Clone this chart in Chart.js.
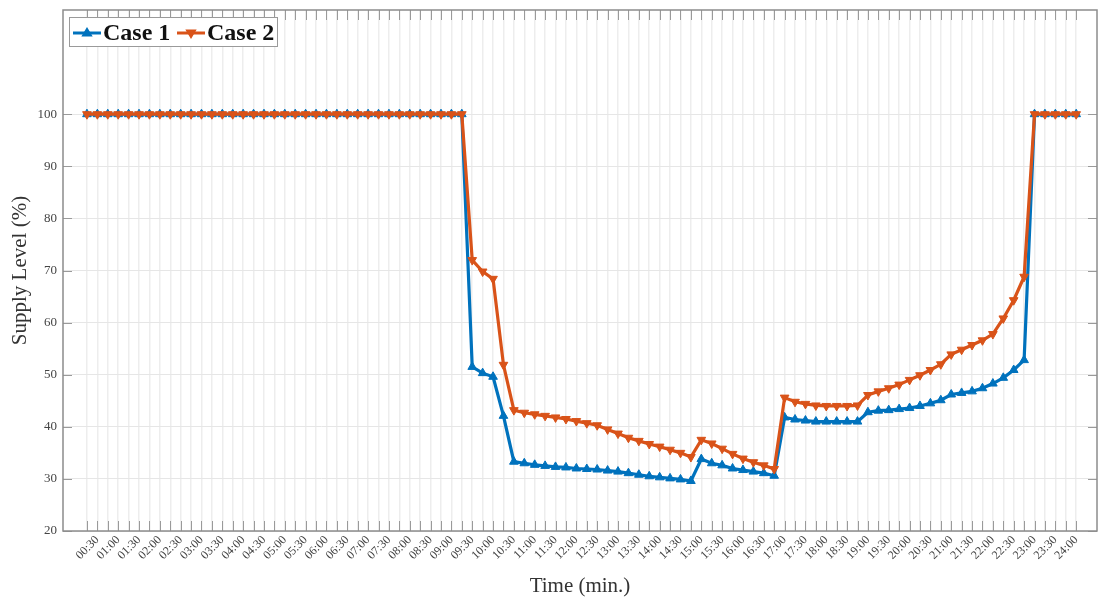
<!DOCTYPE html>
<html>
<head>
<meta charset="utf-8">
<script src="https://cdn.jsdelivr.net/npm/chart.js@4.4.1/dist/chart.umd.min.js"></script>
<style>
    html, body { margin: 0; padding: 0; background: #fff; }
    #wrap { width: 1099px; height: 599px; }
</style>
</head>
<body>
<div id="wrap"><canvas id="supplyChart"></canvas></div>
<script>
// x tick labels, one for every second 15-minute step
const timeLabels = [
    "00:30", "01:00", "01:30", "02:00", "02:30", "03:00", "03:30", "04:00",
    "04:30", "05:00", "05:30", "06:00", "06:30", "07:00", "07:30", "08:00",
    "08:30", "09:00", "09:30", "10:00", "10:30", "11:00", "11:30", "12:00",
    "12:30", "13:00", "13:30", "14:00", "14:30", "15:00", "15:30", "16:00",
    "16:30", "17:00", "17:30", "18:00", "18:30", "19:00", "19:30", "20:00",
    "20:30", "21:00", "21:30", "22:00", "22:30", "23:00", "23:30", "24:00",
];

// supply level (%) every 15 minutes, 00:15 .. 24:00
const case1 = [
    100, 100, 100, 100, 100, 100, 100, 100, 100, 100, 100, 100,
    100, 100, 100, 100, 100, 100, 100, 100, 100, 100, 100, 100,
    100, 100, 100, 100, 100, 100, 100, 100, 100, 100, 100, 100, 100,
    51.5, 50.3, 49.6, 42.1, 33.3, 33.0, 32.7, 32.5, 32.3, 32.2, 32.0, 31.9,
    31.8, 31.6, 31.4, 31.1, 30.8, 30.5, 30.3, 30.1, 29.9, 29.6, 33.8, 33.0,
    32.6, 32.0, 31.7, 31.4, 31.1, 30.6, 41.8, 41.4, 41.2, 41.0, 41.0, 41.0,
    41.0, 41.0, 42.8, 43.1, 43.2, 43.4, 43.6, 44.0, 44.5, 45.1, 46.2, 46.5,
    46.8, 47.4, 48.3, 49.4, 50.9, 52.8,
    100, 100, 100, 100, 100,
];

const case2 = [
    100, 100, 100, 100, 100, 100, 100, 100, 100, 100, 100, 100,
    100, 100, 100, 100, 100, 100, 100, 100, 100, 100, 100, 100,
    100, 100, 100, 100, 100, 100, 100, 100, 100, 100, 100, 100, 100,
    72.0, 69.8, 68.4, 51.9, 43.2, 42.7, 42.4, 42.1, 41.8, 41.5, 41.1, 40.7,
    40.3, 39.5, 38.7, 37.9, 37.3, 36.7, 36.2, 35.6, 35.0, 34.2, 37.5, 36.8,
    35.8, 34.8, 33.9, 33.2, 32.6, 31.9, 45.6, 44.8, 44.4, 44.1, 44.0, 44.0,
    44.0, 44.1, 46.1, 46.8, 47.4, 48.1, 49.0, 49.9, 50.9, 52.0, 53.9, 54.8,
    55.7, 56.6, 57.8, 60.8, 64.3, 68.8,
    100, 100, 100, 100, 100,
];

const yTicks = [20, 30, 40, 50, 60, 70, 80, 90, 100];

const BLUE = "#0072BD";
const ORANGE = "#D95319";
const SERIF = "'Liberation Serif', 'Times New Roman', serif";

const toPoints = (arr) => arr.map((v, k) => ({ x: k + 1, y: v }));

// inward tick marks and the closed box, matlab style
const frameTicks = {
    id: "frameTicks",
    beforeDatasetsDraw(chart) {
        const { ctx, chartArea: a, scales } = chart;
        ctx.save();
        ctx.strokeStyle = "#9a9a9a";
        ctx.lineWidth = 1;
        ctx.beginPath();
        scales.x.ticks.forEach((t) => {
            const px = Math.round(scales.x.getPixelForValue(t.value)) + 0.5;
            ctx.moveTo(px, a.bottom);
            ctx.lineTo(px, a.bottom - 10);
            ctx.moveTo(px, a.top);
            ctx.lineTo(px, a.top + 10);
        });
        yTicks.forEach((v) => {
            const py = Math.round(scales.y.getPixelForValue(v)) + 0.5;
            ctx.moveTo(a.left, py);
            ctx.lineTo(a.left + 9, py);
            ctx.moveTo(a.right, py);
            ctx.lineTo(a.right - 9, py);
        });
        ctx.stroke();
        ctx.strokeStyle = "#8c8c8c";
        ctx.lineWidth = 1.5;
        ctx.strokeRect(a.left, a.top, a.right - a.left, a.bottom - a.top);
        ctx.restore();
    },
};

function drawMarker(ctx, x, y, r, down) {
    const s = down ? -1 : 1;
    ctx.beginPath();
    ctx.moveTo(x, y - s * r);
    ctx.lineTo(x + r * 0.95, y + s * r * 0.6);
    ctx.lineTo(x - r * 0.95, y + s * r * 0.6);
    ctx.closePath();
    ctx.fill();
}

// legend box inside the plot, top left
const innerLegend = {
    id: "innerLegend",
    afterDraw(chart) {
        const { ctx } = chart;
        ctx.save();
        ctx.fillStyle = "#fff";
        ctx.fillRect(69, 17, 209, 30);
        ctx.strokeStyle = "#9a9a9a";
        ctx.lineWidth = 1;
        ctx.strokeRect(69.5, 17.5, 208, 29);

        const cy = 33;
        const items = [
            { label: "Case 1", color: BLUE, x0: 73, x1: 101, tx: 103, down: false },
            { label: "Case 2", color: ORANGE, x0: 177, x1: 205, tx: 207, down: true },
        ];
        ctx.font = "bold 24px " + SERIF;
        ctx.textBaseline = "middle";
        items.forEach((it) => {
            ctx.strokeStyle = it.color;
            ctx.fillStyle = it.color;
            ctx.lineWidth = 3;
            ctx.beginPath();
            ctx.moveTo(it.x0, cy);
            ctx.lineTo(it.x1, cy);
            ctx.stroke();
            drawMarker(ctx, (it.x0 + it.x1) / 2, cy, 6, it.down);
            ctx.fillStyle = "#111";
            ctx.fillText(it.label, it.tx, cy + 1);
        });
        ctx.restore();
    },
};

new Chart(document.getElementById("supplyChart"), {
    type: "line",
    data: {
        datasets: [
            {
                label: "Case 1",
                data: toPoints(case1),
                borderColor: BLUE,
                backgroundColor: BLUE,
                borderWidth: 3.2,
                pointStyle: "triangle",
                pointRadius: 5,
                pointBorderWidth: 1,
                tension: 0,
                order: 1,
            },
            {
                label: "Case 2",
                data: toPoints(case2),
                borderColor: ORANGE,
                backgroundColor: ORANGE,
                borderWidth: 3.2,
                pointStyle: "triangle",
                pointRotation: 180,
                pointRadius: 5,
                pointBorderWidth: 1,
                tension: 0,
                order: 0,
            },
        ],
    },
    options: {
        responsive: true,
        maintainAspectRatio: false,
        animation: false,
        layout: {
            autoPadding: false,
            padding: { top: 10, right: 2, left: 0, bottom: 0 },
        },
        plugins: {
            legend: { display: false },
            tooltip: { enabled: false },
        },
        scales: {
            x: {
                type: "linear",
                min: -1.3,
                max: 98,
                afterBuildTicks: (scale) => {
                    scale.ticks = case1.map((_, k) => ({ value: k + 1 }));
                },
                afterFit: (scale) => {
                    scale.height = 68;
                    scale.paddingLeft = 0;
                    scale.paddingRight = 0;
                },
                ticks: {
                    autoSkip: false,
                    minRotation: 45,
                    maxRotation: 45,
                    padding: 2,
                    color: "#444",
                    font: { family: SERIF, size: 12 },
                    callback: (value) => (value % 2 === 0 ? timeLabels[value / 2 - 1] : ""),
                },
                grid: {
                    color: "#ededed",
                    lineWidth: 1.5,
                    drawTicks: false,
                },
                border: { display: false },
                title: {
                    display: true,
                    text: "Time (min.)",
                    color: "#333",
                    font: { family: SERIF, size: 21 },
                    padding: { top: 0, bottom: 0 },
                },
            },
            y: {
                min: 20,
                max: 120,
                afterBuildTicks: (scale) => {
                    scale.ticks = yTicks.map((v) => ({ value: v }));
                },
                afterFit: (scale) => {
                    scale.width = 63;
                    scale.paddingTop = 0;
                    scale.paddingBottom = 0;
                },
                ticks: {
                    padding: 6,
                    color: "#444",
                    font: { family: SERIF, size: 13 },
                },
                grid: {
                    color: "#e6e6e6",
                    lineWidth: 1,
                    drawTicks: false,
                },
                border: { display: false },
                title: {
                    display: true,
                    text: "Supply Level (%)",
                    color: "#333",
                    font: { family: SERIF, size: 21 },
                    padding: { top: 8, bottom: 0 },
                },
            },
        },
    },
    plugins: [frameTicks, innerLegend],
});
</script>
</body>
</html>
